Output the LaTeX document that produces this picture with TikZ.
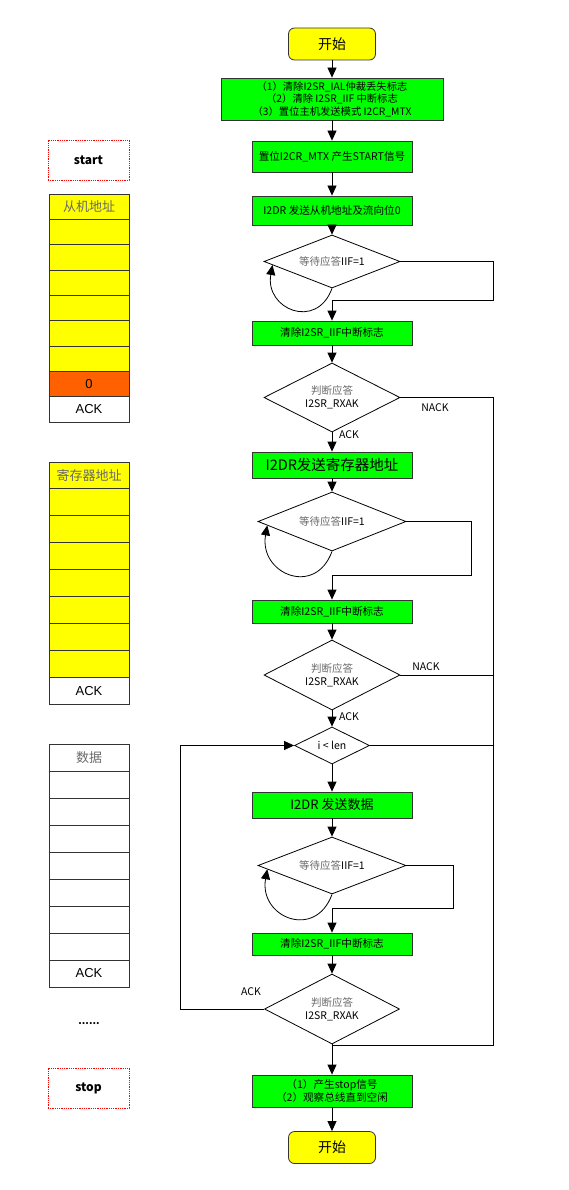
\documentclass[tikz,border=0pt]{standalone}
\usepackage{fontspec}
\setmainfont{Noto Sans CJK SC}
\newfontfamily\arialfont{Liberation Sans}
\usepackage{xcolor}
\usepackage{tikz}
\usetikzlibrary{arrows.meta,shapes.geometric,calc}

\definecolor{boxgreen}{HTML}{00FF00}
\definecolor{termyellow}{HTML}{FFFF00}
\definecolor{bitorange}{HTML}{FF6000}
\definecolor{edgegray}{HTML}{333333}
\definecolor{cjkgray}{HTML}{6A6A6A}

\tikzset{
  process/.style={draw=edgegray, fill=boxgreen, minimum width=160pt, inner sep=0pt, align=center, font=\fontsize{10.6}{12.6}\selectfont},
  term/.style={draw=edgegray, fill=termyellow, rounded corners=6pt, minimum width=87pt, minimum height=32pt, font=\fontsize{14}{16}\selectfont},
  decision/.style={diamond, shape aspect=2.2, draw=black, inner sep=0pt, align=center, font=\fontsize{10.5}{13}\selectfont},
  cell/.style={draw=edgegray, minimum width=80pt, inner sep=0pt, outer sep=0pt, font=\arialfont\fontsize{13}{15}\selectfont},
  marker/.style={draw=red, densely dotted, minimum width=81pt, minimum height=40pt, font=\bfseries\fontsize{12}{14}\selectfont},
  lbl/.style={font=\fontsize{10.5}{12}\selectfont}
}

\begin{document}
\begin{tikzpicture}[x=1pt, y=-1pt, line width=0.8pt, >={Triangle[width=9pt,length=10pt]}]
    \useasboundingbox[fill=white] (0,0) rectangle (568,1190);

    % main flow
    \node[term] (start) at (332,44) {开始};
    \node[process, minimum width=222pt, minimum height=42pt, font=\fontsize{10.3}{12.4}\selectfont] (init) at (332,99) {（1）清除I2SR\_IAL仲裁丢失标志\\（2）清除 I2SR\_IIF 中断标志\\（3）置位主机发送模式 I2CR\_MTX};
    \node[process, minimum height=31pt] (gen) at (332,156.5) {置位I2CR\_MTX 产生START信号};
    \node[process, minimum height=29pt] (sendaddr) at (332,210.5) {I2DR 发送从机地址及流向位0};
    \node[decision, minimum width=136pt, minimum height=53pt] (waita) at (332,261.5) {\textcolor{cjkgray}{等待应答}IIF=1};
    \node[process, minimum height=24pt] (clra) at (332,333) {清除I2SR\_IIF中断标志};
    \node[decision, minimum width=136pt, minimum height=69pt] (acka) at (332,397.5) {\textcolor{cjkgray}{判断应答}\\I2SR\_RXAK};
    \node[process, minimum height=26pt, font=\fontsize{14.5}{16}\selectfont] (sendreg) at (332,465) {I2DR发送寄存器地址};
    \node[decision, minimum width=148pt, minimum height=59pt] (waitb) at (332,521.5) {\textcolor{cjkgray}{等待应答}IIF=1};
    \node[process, minimum height=23pt] (clrb) at (332,611.5) {清除I2SR\_IIF中断标志};
    \node[decision, minimum width=136pt, minimum height=70pt] (ackb) at (332,675) {\textcolor{cjkgray}{判断应答}\\I2SR\_RXAK};
    \node[decision, minimum width=75pt, minimum height=37pt] (loop) at (332,745.5) {i < len};
    \node[process, minimum height=26pt, font=\fontsize{13}{15}\selectfont] (senddata) at (332,805) {I2DR 发送数据};
    \node[decision, minimum width=148pt, minimum height=57pt] (waitc) at (332,865.5) {\textcolor{cjkgray}{等待应答}IIF=1};
    \node[process, minimum height=22pt] (clrc) at (332,944) {清除I2SR\_IIF中断标志};
    \node[decision, minimum width=135pt, minimum height=70pt] (ackc) at (332,1009) {\textcolor{cjkgray}{判断应答}\\I2SR\_RXAK};
    \node[process, minimum height=32pt] (stopgen) at (332,1091) {（1）产生stop信号\\（2）观察总线直到空闲};
    \node[term] (finish) at (332,1147.5) {开始};

    \draw[->] (start.south) -- (init.north);
    \draw[->] (init.south) -- (gen.north);
    \draw[->] (gen.south) -- (sendaddr.north);
    \draw[->] (sendaddr.south) -- (waita.north);
    \draw[->] (clra.south) -- (acka.north);
    \draw[->] (acka.south) -- (sendreg.north);
    \draw[->] (sendreg.south) -- (waitb.north);
    \draw[->] (clrb.south) -- (ackb.north);
    \draw[->] (ackb.south) -- (loop.north);
    \draw[->] (loop.south) -- (senddata.north);
    \draw[->] (senddata.south) -- (waitc.north);
    \draw[->] (clrc.south) -- (ackc.north);
    \draw[->] (ackc.south) -- (stopgen.north);
    \draw[->] (stopgen.south) -- (finish.north);

    % waiting loops
    \coordinate (ja) at (332,300);  \coordinate (ra) at (493,300);
    \coordinate (jb) at (332,575);  \coordinate (rb) at (471,575);
    \coordinate (jc) at (332,908);  \coordinate (rc) at (453,908);
    \draw[->] (waita.east) -| (ra) -- (ja) -- (clra.north);
    \draw[->] (waitb.east) -| (rb) -- (jb) -- (clrb.north);
    \draw[->] (waitc.east) -| (rc) -- (jc) -- (clrc.north);
    \draw[->] (waita.south) to[out=-110, in=-100, looseness=1.8] ($(waita.west)!0.13!(waita.south)$);
    \draw[->] (waitb.south) to[out=-110, in=-100, looseness=1.8] ($(waitb.west)!0.13!(waitb.south)$);
    \draw[->] (waitc.south) to[out=-110, in=-100, looseness=1.8] ($(waitc.west)!0.13!(waitc.south)$);

    % NACK bus and loop back
    \coordinate (nackend) at (493,1045);
    \coordinate (stopjoin) at (332,1045);
    \draw (acka.east) -| (nackend) -- (stopjoin);
    \draw (ackb.east) -- (ackb.east -| nackend);
    \draw (loop.east) -- (loop.east -| nackend);
    \coordinate (back) at (180,1009);
    \draw[->] (ackc.west) -- (back) |- (loop.west);

    \node[lbl] (nacka) at (435,408) {NACK};
    \node[lbl] (nackb) at (426,667) {NACK};
    \node[lbl] (acklbla) at (349,435) {ACK};
    \node[lbl] (acklblb) at (349,717) {ACK};
    \node[lbl] (acklblc) at (251,992) {ACK};

    % frame on the left
    \node[marker] (startbit) at (88.5,160) {start};
    \node[cell, minimum height=25.33pt, fill=termyellow] (sa0) at (89,206.7) {\textcolor{cjkgray}{\rmfamily 从机地址}};
    \foreach \y in {232.0,257.3,282.7,308.0,333.3,358.7}
        \node[cell, minimum height=25.33pt, fill=termyellow] at (89,\y) {};
    \node[cell, minimum height=25.33pt, fill=bitorange] (sarw) at (89,384) {0};
    \node[cell, minimum height=25.33pt] (saack) at (89,409.3) {ACK};

    \node[cell, minimum height=26.9pt, fill=termyellow] (ra0) at (89,475.4) {\textcolor{cjkgray}{\rmfamily 寄存器地址}};
    \foreach \y in {502.3,529.2,556.1,583.0,609.9,636.8,663.7}
        \node[cell, minimum height=26.9pt, fill=termyellow] at (89,\y) {};
    \node[cell, minimum height=26.9pt] (raack) at (89,690.6) {ACK};

    \node[cell, minimum height=27pt] (da0) at (89,757.5) {\textcolor{cjkgray}{\rmfamily 数据}};
    \foreach \y in {784.5,811.5,838.5,865.5,892.5,919.5,946.5}
        \node[cell, minimum height=27pt] at (89,\y) {};
    \node[cell, minimum height=27pt] (daack) at (89,973.5) {ACK};

    \node[lbl, font=\bfseries\fontsize{10}{11}\selectfont] (more) at (89,1024) {......};
    \node[marker] (stopbit) at (88.5,1088) {stop};
\end{tikzpicture}
\end{document}
